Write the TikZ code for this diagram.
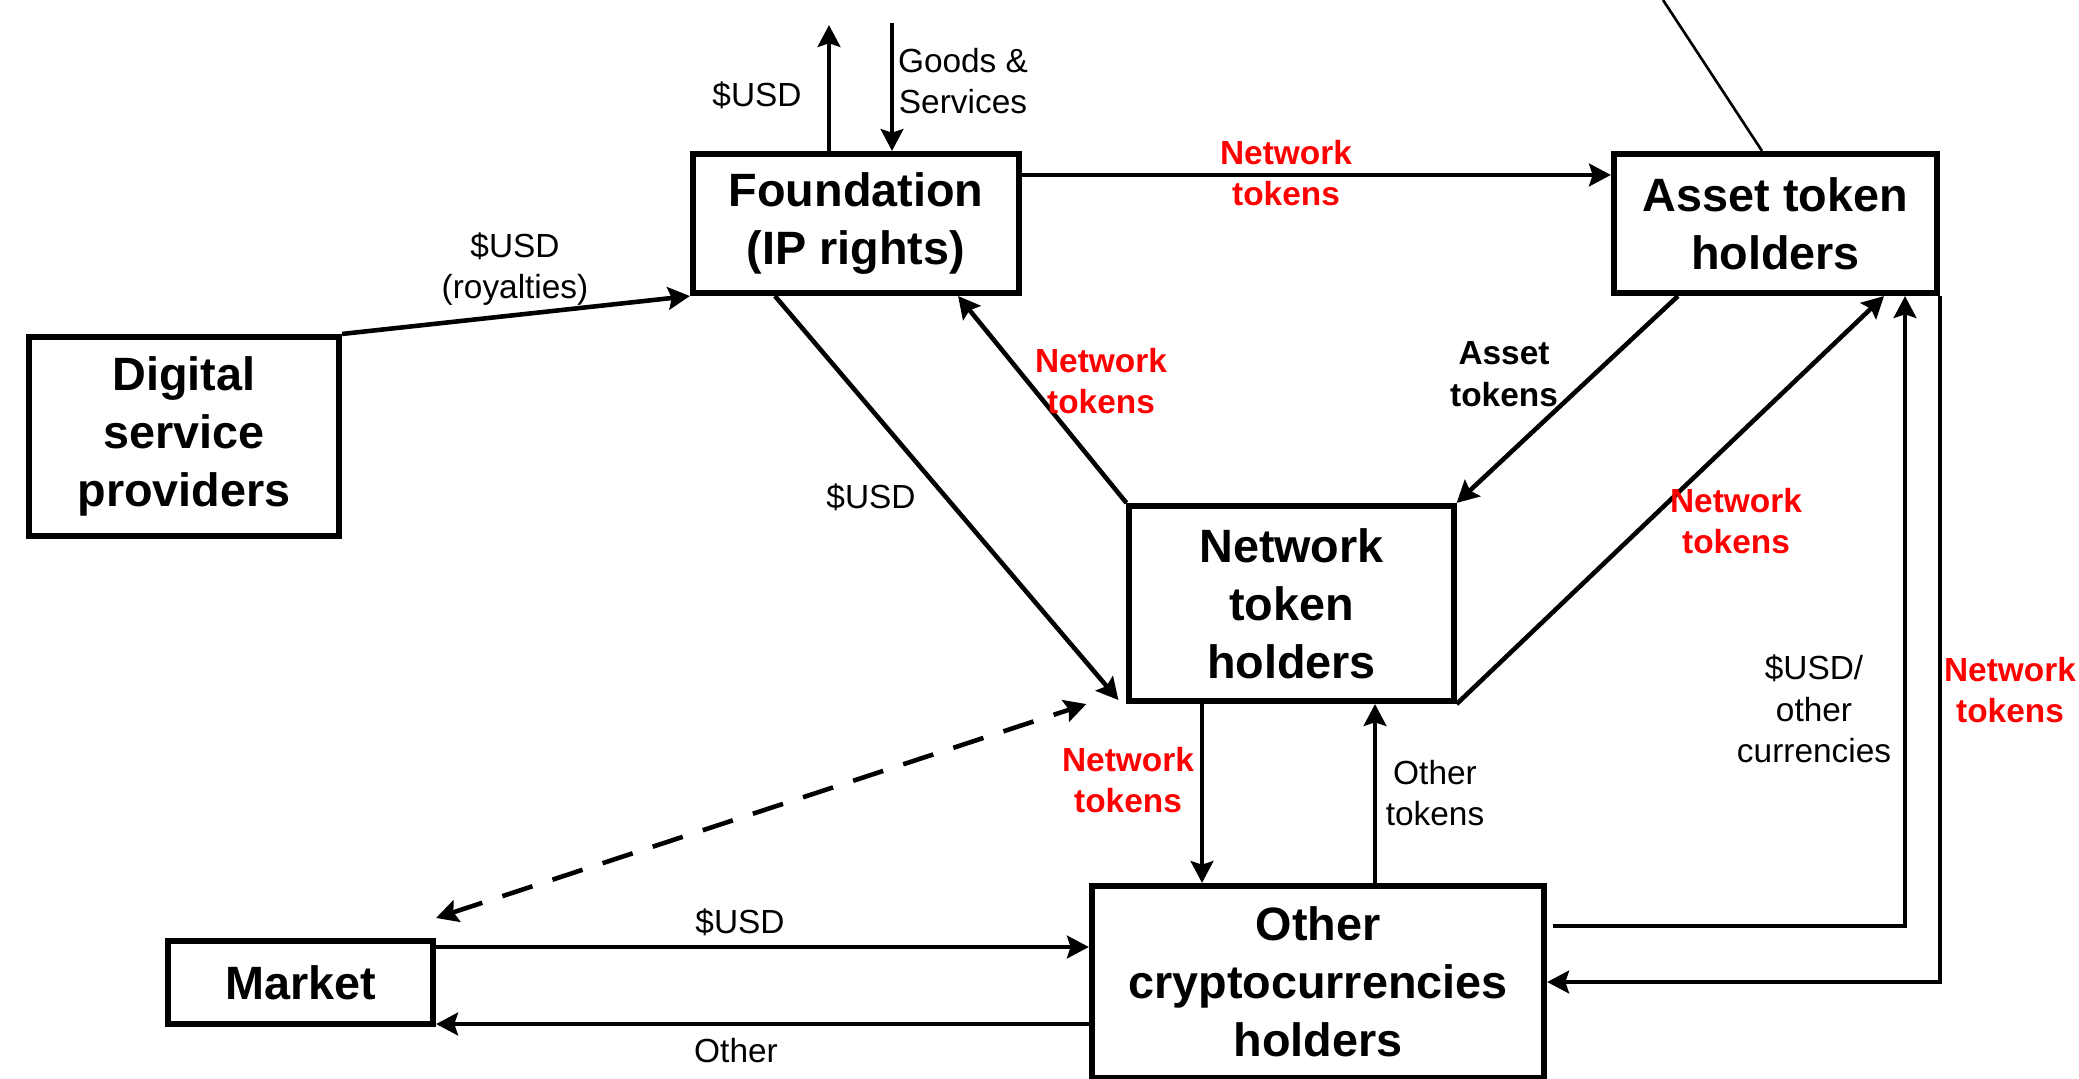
\documentclass[tikz,border=0pt]{standalone}
\usepackage{fontspec}
\setmainfont{Liberation Sans}
\usetikzlibrary{arrows.meta}

\definecolor{tokred}{RGB}{255,0,0}
\newcommand{\partyfont}{\fontsize{13.3}{16.5}\selectfont\bfseries}
\newcommand{\lblfont}{\fontsize{9.5}{11.8}\selectfont}

\tikzset{
  party/.style={draw, line width=1.7pt, inner sep=0pt, align=center, font=\partyfont},
  flow/.style={->, line width=1.3pt},
  lbl/.style={align=center, font=\lblfont},
  redlbl/.style={align=center, font=\lblfont\bfseries, text=tokred},
}

\begin{document}
\begin{tikzpicture}[x=0.01cm, y=-0.01cm, >={Stealth[length=6.2pt,width=6.4pt,inset=1pt]}]

  \useasboundingbox (0,0) rectangle (2079,1079);

  %% ---- PARTIES ----
  \node[party, minimum width=3.26cm, minimum height=1.39cm] (found) at (856,223.5) {Foundation\\(IP rights)};
  \node[party, minimum width=3.23cm, minimum height=1.39cm] (asset) at (1775.5,223.5) {Asset token\\holders};
  \node[party, minimum width=3.10cm, minimum height=1.99cm] (dsp) at (184,436.5) {Digital\\service\\providers};
  \node[party, minimum width=3.24cm, minimum height=1.95cm] (nth) at (1291.5,603.5) {Network\\token\\holders};
  \node[party, minimum width=4.52cm, minimum height=1.92cm] (other) at (1318,982) {Other\\cryptocurrencies\\holders};
  \node[party, minimum width=2.65cm, minimum height=0.83cm] (market) at (300.5,982.5) {Market};

  %% guide points
  \coordinate (usdTop) at (829,25);
  \coordinate (goodsTop) at (892,23);
  \coordinate (xNt) at (1202,0);
  \coordinate (xOt) at (1375,0);
  \coordinate (xCur) at (1905,0);
  \coordinate (yUsd) at (0,947);
  \coordinate (yOther) at (0,1024);
  \coordinate (callout) at (1663,0);

  %% ---- FOUNDATION ----
  \draw[flow] (found.north -| usdTop) -- (usdTop);
  \draw[flow] (goodsTop) -- (goodsTop |- found.north);
  \draw[flow] (dsp.north east) -- (found.south west);
  \draw[flow] ([yshift=0.485cm]found.east) -- ([yshift=0.485cm]asset.west);
  \draw[flow] ([xshift=-0.81cm]found.south) -- ([xshift=-0.08cm,yshift=0.04cm]nth.south west);
  \draw[flow] (nth.north west) -- ([xshift=1.02cm]found.south);

  %% labels
  \node[lbl] at (757,95) {\$USD};
  \node[lbl] at (963,81) {Goods \&\\Services};
  \node[lbl] at (515,269) {\$USD\\(royalties)};
  \node[redlbl] at (1286,173) {Network\\tokens};
  \node[lbl] at (871,497) {\$USD};
  \node[redlbl] at (1101,381) {Network\\tokens};

  %% ---- ASSET TOKEN HOLDERS ----
  \draw[line width=0.75pt] ([xshift=-0.135cm]asset.north) -- (callout);
  \draw[flow] ([xshift=-0.975cm]asset.south) -- (nth.north east);
  \draw[flow] (nth.south east) -- ([xshift=1.085cm]asset.south);
  \draw[flow] ([xshift=0.06cm,yshift=0.56cm]other.east) -| (asset.south -| xCur);
  \draw[flow] (asset.south east) |- (other.east);

  %% labels
  \node[lbl, font=\lblfont\bfseries] at (1504,374) {Asset\\tokens};
  \node[redlbl] at (1736,521) {Network\\tokens};
  \node[lbl] at (1814,709) {\$USD/\\other\\currencies};
  \node[redlbl] at (2010,690) {Network\\tokens};

  %% ---- NETWORK / OTHER ----
  \draw[flow] (nth.south -| xNt) -- (other.north -| xNt);
  \draw[flow] (other.north -| xOt) -- (nth.south -| xOt);
  \node[redlbl] at (1128,780) {Network\\tokens};
  \node[lbl] at (1435,793) {Other\\tokens};

  %% ---- MARKET ----
  \draw[flow, <->, dash pattern=on 9pt off 6pt] ([yshift=0.2cm]market.north east) -- ([xshift=-0.4cm]nth.south west);
  \draw[flow] (market.east |- yUsd) -- (other.west |- yUsd);
  \draw[flow] (other.west |- yOther) -- (market.east |- yOther);
  \node[lbl] at (740,922) {\$USD};
  \node[lbl] at (736,1051) {Other};

\end{tikzpicture}
\end{document}
